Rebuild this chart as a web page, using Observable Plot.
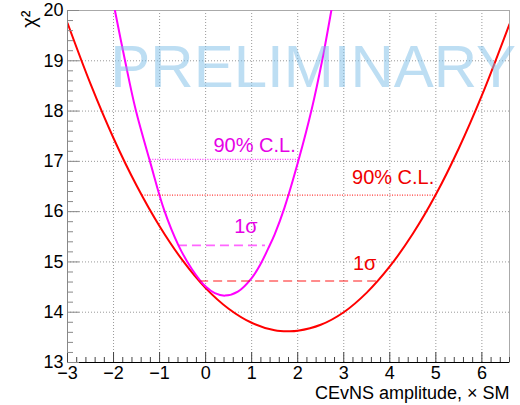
<!DOCTYPE html>
<html>
<head>
<meta charset="utf-8">
<script src="https://cdn.jsdelivr.net/npm/d3@7"></script>
<script src="https://cdn.jsdelivr.net/npm/@observablehq/plot@0.6"></script>
<style>
  html, body { margin: 0; padding: 0; background: #fff; }
  #chart { width: 520px; height: 405px; }
</style>
</head>
<body>
<div id="chart"></div>
<script>
// ---- data ----
const xMajor = [-3, -2, -1, 0, 1, 2, 3, 4, 5, 6];
const xTickLabels = ["−3", "−2", "−1", "0", "1", "2", "3", "4", "5", "6"];
const yMajor = [13, 14, 15, 16, 17, 18, 19, 20];
const yTickLabels = ["13", "14", "15", "16", "17", "18", "19", "20"];
const xDomain = [-3, 6.6];
const yDomain = [13, 20];

// red curve (combined fit)
const redX    = [-3, -2.5, -2, -1.5, -1, -0.5, 0, 0.5, 1, 1.5, 1.8, 2, 2.5, 3, 3.5, 4, 4.5, 5, 5.5, 6, 6.6];
const redChi2 = [19.75, 18.54, 17.46, 16.52, 15.71, 15.03, 14.48, 14.07, 13.79, 13.64, 13.62, 13.63, 13.75, 14.0, 14.39, 14.91, 15.56, 16.34, 17.26, 18.31, 19.73];

// magenta curve
const magX    = [-1.97, -1.75, -1.52, -1.2, -0.9, -0.59, -0.3, 0, 0.2, 0.42, 0.7, 1, 1.2, 1.36, 1.5, 1.71, 2.02, 2.3, 2.53, 2.73];
const magChi2 = [20, 19, 18.03, 16.97, 16.03, 15.33, 14.86, 14.51, 14.38, 14.33, 14.41, 14.68, 14.97, 15.27, 15.55, 16.07, 17.03, 18.02, 19.0, 20.0];

// confidence intervals: [1σ, 90% C.L.]
const clLabels = ["1σ", "90% C.L."];
const redLo = [-0.13, -1.37], redHi = [3.71, 4.99], redLevel = [14.62, 16.33];
const magLo = [-0.59, -1.2],  magHi = [1.30, 2.02], magLevel = [15.33, 17.04];
const redLabelX = [3.2, 3.18], redLabelY = [14.96, 16.67];
const magLabelX = [0.62, 0.17], magLabelY = [15.70, 17.32];

const watermark = ["PRELIMINARY"];
const watermarkX = [-2.07], watermarkY = [18.86];

const xTitle = "CEvNS amplitude, × SM";
const yTitle = "χ²";

// ---- build tables ----
const red = redX.map((x, i) => ({x, y: redChi2[i]}));
const mag = magX.map((x, i) => ({x, y: magChi2[i]}));
const redCL = clLabels.map((l, i) => ({label: l, x1: redLo[i], x2: redHi[i], y: redLevel[i], lx: redLabelX[i], ly: redLabelY[i]}));
const magCL = clLabels.map((l, i) => ({label: l, x1: magLo[i], x2: magHi[i], y: magLevel[i], lx: magLabelX[i], ly: magLabelY[i]}));
const xMinor = d3.range(-3, 6.6001, 0.2).map(v => +v.toFixed(2)).filter(v => !xMajor.includes(v));
const yMinor = d3.range(13, 20.0001, 0.2).map(v => +v.toFixed(2)).filter(v => !yMajor.includes(v));

const RED = "#ff0000", MAG = "#ff00ff";

const chart = Plot.plot({
  width: 520,
  height: 405,
  marginLeft: 67,
  marginRight: 11,
  marginTop: 10,
  marginBottom: 43,
  style: {fontFamily: "'Liberation Sans', Arial, sans-serif", fontSize: "18px", background: "#fff", color: "#000"},
  x: {domain: xDomain, label: null},
  y: {domain: yDomain, label: null},
  marks: [
    // grid
    Plot.gridX(xMajor.filter(v => v > xDomain[0]), {stroke: "#999", strokeOpacity: 1, strokeDasharray: "1,2"}),
    Plot.gridY(yMajor.filter(v => v > yDomain[0] && v < yDomain[1]), {stroke: "#999", strokeOpacity: 1, strokeDasharray: "1,2"}),
    Plot.frame({stroke: "#aaa"}),
    // curves
    Plot.line(red, {x: "x", y: "y", stroke: RED, strokeWidth: 2, curve: "catmull-rom", clip: true}),
    Plot.line(mag, {x: "x", y: "y", stroke: MAG, strokeWidth: 2, curve: "catmull-rom", clip: true}),
    // 1σ dashed
    Plot.ruleY(redCL.slice(0, 1), {y: "y", x1: "x1", x2: "x2", stroke: RED, strokeOpacity: 0.6, strokeWidth: 1.6, strokeDasharray: "9,5"}),
    Plot.ruleY(magCL.slice(0, 1), {y: "y", x1: "x1", x2: "x2", stroke: MAG, strokeOpacity: 0.6, strokeWidth: 1.6, strokeDasharray: "9,5"}),
    // 90% dotted
    Plot.ruleY(redCL.slice(1), {y: "y", x1: "x1", x2: "x2", stroke: RED, strokeOpacity: 0.8, strokeWidth: 1.2, strokeDasharray: "1,1.5"}),
    Plot.ruleY(magCL.slice(1), {y: "y", x1: "x1", x2: "x2", stroke: MAG, strokeOpacity: 0.8, strokeWidth: 1.2, strokeDasharray: "1,1.5"}),
    // labels
    Plot.text(redCL, {x: "lx", y: "ly", text: "label", fill: "#f00000", fontSize: 20, textAnchor: "start", lineAnchor: "middle"}),
    Plot.text(magCL, {x: "lx", y: "ly", text: "label", fill: "#e600e6", fontSize: 20, textAnchor: "start", lineAnchor: "middle"}),
    // watermark
    Plot.text(watermark, {x: () => watermarkX[0], y: () => watermarkY[0], text: d => d, fill: "#7cbde8", fillOpacity: 0.5, fontSize: 60, textAnchor: "start", lineAnchor: "middle"}),
    // axes lines
    Plot.ruleX([xDomain[0]], {stroke: "#888"}),
    Plot.ruleY([yDomain[0]], {stroke: "#000"}),
    // x ticks (inward)
    Plot.ruleX(xMajor, {x: d => d, y1: yDomain[0], y2: yDomain[0], insetTop: -10, stroke: "#444"}),
    Plot.ruleX(xMinor, {x: d => d, y1: yDomain[0], y2: yDomain[0], insetTop: -5, stroke: "#444"}),
    // y ticks (inward)
    Plot.ruleY(yMajor, {y: d => d, x1: xDomain[0], x2: xDomain[0], insetRight: -12, stroke: "#888"}),
    Plot.ruleY(yMinor, {y: d => d, x1: xDomain[0], x2: xDomain[0], insetRight: -6, stroke: "#888"}),
    // tick labels
    Plot.axisX(xMajor, {tickSize: 0, tickPadding: 4, tickFormat: (d) => xTickLabels[xMajor.indexOf(d)], fontSize: 18, label: null}),
    Plot.axisY(yMajor, {tickSize: 0, tickPadding: 4, tickFormat: (d) => yTickLabels[yMajor.indexOf(d)], fontSize: 18, label: null}),
    // axis titles
    Plot.text([xTitle], {frameAnchor: "bottom-right", text: d => d, dy: 31, textAnchor: "end", lineAnchor: "middle", fontSize: 18, fill: "#000"}),
    Plot.text([yTitle], {frameAnchor: "top-left", text: d => d, dx: -38, textAnchor: "end", lineAnchor: "middle", rotate: -90, fontSize: 20, fill: "#000"})
  ]
});
document.getElementById("chart").appendChild(chart);
</script>
</body>
</html>
